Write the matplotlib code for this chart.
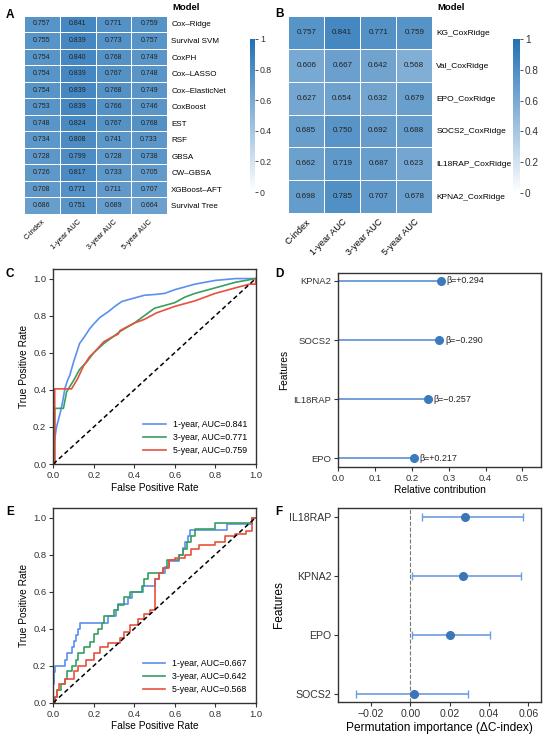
import numpy as np
import matplotlib
matplotlib.use("Agg")
import matplotlib.pyplot as plt
from matplotlib.colors import LinearSegmentedColormap

plt.rcParams['font.family'] = ['Liberation Sans', 'DejaVu Sans']
plt.rcParams['axes.unicode_minus'] = True

# ---------------- data ----------------
metrics = ["C-index", "1-year AUC", "3-year AUC", "5-year AUC"]
models_a = ["Cox\u2013Ridge", "Survival SVM", "CoxPH", "Cox\u2013LASSO", "Cox\u2013ElasticNet",
            "CoxBoost", "EST", "RSF", "GBSA", "CW\u2013GBSA", "XGBoost\u2013AFT", "Survival Tree"]
vals_a = [[0.757, 0.841, 0.771, 0.759],
          [0.755, 0.839, 0.773, 0.757],
          [0.754, 0.840, 0.768, 0.749],
          [0.754, 0.839, 0.767, 0.748],
          [0.754, 0.839, 0.768, 0.749],
          [0.753, 0.839, 0.766, 0.746],
          [0.748, 0.824, 0.767, 0.768],
          [0.734, 0.808, 0.741, 0.733],
          [0.728, 0.799, 0.728, 0.738],
          [0.726, 0.817, 0.733, 0.705],
          [0.708, 0.771, 0.711, 0.707],
          [0.686, 0.751, 0.689, 0.664]]
models_b = ["KG_CoxRidge", "Val_CoxRidge", "EPO_CoxRidge", "SOCS2_CoxRidge",
            "IL18RAP_CoxRidge", "KPNA2_CoxRidge"]
vals_b = [[0.757, 0.841, 0.771, 0.759],
          [0.606, 0.667, 0.642, 0.568],
          [0.627, 0.654, 0.632, 0.679],
          [0.685, 0.750, 0.692, 0.688],
          [0.662, 0.719, 0.687, 0.623],
          [0.698, 0.785, 0.707, 0.678]]
cbar_ticks = [0, 0.2, 0.4, 0.6, 0.8, 1]
cbar_labels = ["0", "0.2", "0.4", "0.6", "0.8", "1"]

# Panel C ROC (training)
c_1y_fpr = [0, 0.005, 0.016, 0.033, 0.045, 0.058, 0.07, 0.082, 0.1, 0.115, 0.13, 0.15, 0.18, 0.2,
            0.23, 0.27, 0.31, 0.34, 0.4, 0.45, 0.51, 0.55, 0.6, 0.65, 0.7, 0.75, 0.8, 0.9, 1.0]
c_1y_tpr = [0, 0.12, 0.2, 0.27, 0.33, 0.41, 0.45, 0.48, 0.55, 0.6, 0.65, 0.68, 0.73, 0.755,
            0.79, 0.82, 0.855, 0.877, 0.895, 0.91, 0.915, 0.92, 0.94, 0.955, 0.97, 0.98, 0.99, 1.0, 1.0]
c_3y_fpr = [0, 0.007, 0.007, 0.05, 0.066, 0.1, 0.13, 0.165, 0.2, 0.25, 0.3, 0.33, 0.4, 0.45,
            0.5, 0.55, 0.6, 0.65, 0.7, 0.8, 0.9, 1.0]
c_3y_tpr = [0, 0, 0.30, 0.30, 0.39, 0.45, 0.51, 0.55, 0.6, 0.65, 0.69, 0.715, 0.76, 0.8,
            0.84, 0.855, 0.87, 0.9, 0.92, 0.95, 0.98, 1.0]
c_5y_fpr = [0, 0.007, 0.007, 0.09, 0.107, 0.12, 0.15, 0.18, 0.2, 0.25, 0.3, 0.32, 0.33, 0.4,
            0.45, 0.51, 0.6, 0.7, 0.8, 0.9, 0.97, 1.0, 1.0]
c_5y_tpr = [0, 0, 0.405, 0.405, 0.436, 0.46, 0.53, 0.58, 0.6, 0.66, 0.69, 0.7, 0.72, 0.76,
            0.78, 0.815, 0.85, 0.88, 0.92, 0.95, 0.97, 0.97, 1.0]
c_auc = ["0.841", "0.771", "0.759"]

# Panel E ROC (validation), step corners
e_1y_fpr = [0, 0, 0.005, 0.01, 0.06, 0.07, 0.09, 0.10, 0.11, 0.12, 0.13, 0.27, 0.31, 0.32, 0.37,
            0.39, 0.445, 0.50, 0.52, 0.55, 0.57, 0.62, 0.64, 0.65, 0.665, 0.675, 0.86, 0.98, 1.0]
e_1y_tpr = [0, 0.1, 0.167, 0.2, 0.233, 0.267, 0.3, 0.333, 0.367, 0.4, 0.433, 0.467, 0.5, 0.533,
            0.567, 0.6, 0.633, 0.667, 0.7, 0.733, 0.767, 0.8, 0.833, 0.867, 0.9, 0.933, 0.967, 1.0, 1.0]
e_3y_fpr = [0, 0.01, 0.02, 0.04, 0.06, 0.07, 0.09, 0.11, 0.12, 0.15, 0.18, 0.2, 0.22, 0.24, 0.25,
            0.3, 0.32, 0.35, 0.38, 0.44, 0.45, 0.47, 0.54, 0.56, 0.62, 0.64, 0.66, 0.68, 0.7, 0.8,
            0.98, 1.0]
e_3y_tpr = [0, 0.03, 0.07, 0.1, 0.13, 0.17, 0.2, 0.23, 0.27, 0.3, 0.33, 0.37, 0.4, 0.43, 0.47,
            0.5, 0.53, 0.57, 0.6, 0.63, 0.67, 0.7, 0.73, 0.77, 0.8, 0.83, 0.87, 0.9, 0.94, 0.97,
            1.0, 1.0]
e_5y_fpr = [0, 0.01, 0.02, 0.03, 0.06, 0.1, 0.12, 0.16, 0.2, 0.23, 0.27, 0.33, 0.35, 0.38, 0.42,
            0.45, 0.48, 0.5, 0.52, 0.54, 0.57, 0.6, 0.65, 0.68, 0.72, 0.8, 0.85, 0.9, 0.95, 0.98, 1.0]
e_5y_tpr = [0, 0.03, 0.07, 0.1, 0.13, 0.17, 0.2, 0.23, 0.27, 0.3, 0.32, 0.35, 0.38, 0.42, 0.45,
            0.48, 0.5, 0.67, 0.7, 0.73, 0.77, 0.78, 0.8, 0.83, 0.85, 0.87, 0.9, 0.91, 0.93, 1.0, 1.0]
e_auc = ["0.667", "0.642", "0.568"]
years = ["1-year", "3-year", "5-year"]

# Panel D
d_features = ["KPNA2", "SOCS2", "IL18RAP", "EPO"]
d_contrib = [0.278, 0.274, 0.243, 0.205]
d_beta = ["+0.294", "\u22120.290", "\u22120.257", "+0.217"]

# Panel F
f_features = ["IL18RAP", "KPNA2", "EPO", "SOCS2"]
f_mean = [0.0278, 0.0266, 0.0200, 0.0019]
f_low = [0.0058, 0.0007, 0.0010, -0.0276]
f_high = [0.0575, 0.0563, 0.0405, 0.0295]

# ---------------- figure ----------------
W, H = 550, 737
fig = plt.figure(figsize=(W / 100, H / 100), dpi=100)


def ax_px(l, t, r, b):
    return fig.add_axes([l / W, 1 - b / H, (r - l) / W, (b - t) / H])


cmap = LinearSegmentedColormap.from_list("wb", ["#ffffff", "#2171b5"])
line_cols = ["#5b8ff0", "#35a060", "#e8503c"]
spine_col = "#333333"


def heatmap(ax, vals, rows, fs_cell, fs_row, fs_col):
    arr = np.array(vals)
    m = ax.pcolormesh(arr, cmap=cmap, vmin=0, vmax=1, edgecolors="white", linewidth=0.6)
    ax.set_xlim(0, arr.shape[1])
    ax.set_ylim(arr.shape[0], 0)
    for i in range(arr.shape[0]):
        for j in range(arr.shape[1]):
            ax.text(j + 0.5, i + 0.5, f"{arr[i, j]:.3f}", ha="center", va="center",
                    fontsize=fs_cell, color="#222222")
    ax.set_yticks(np.arange(arr.shape[0]) + 0.5)
    ax.set_yticklabels(rows, fontsize=fs_row)
    ax.yaxis.tick_right()
    ax.set_xticks(np.arange(arr.shape[1]) + 0.5)
    ax.set_xticklabels(metrics, fontsize=fs_col, rotation=45, ha="right", rotation_mode="anchor")
    ax.tick_params(length=0, pad=3)
    for s in ax.spines.values():
        s.set_visible(False)
    return m


def cbar(cax, m, fs):
    cb = fig.colorbar(m, cax=cax)
    cb.outline.set_visible(False)
    cb.set_ticks(cbar_ticks)
    cb.set_ticklabels(cbar_labels)
    cax.tick_params(labelsize=fs, length=2, width=0.6, colors="#333333", pad=2)


# Panel A
axA = ax_px(24, 15.7, 167, 214)
mA = heatmap(axA, vals_a, models_a, 5.0, 5.8, 5.4)
cbar(ax_px(250, 39, 254.5, 192), mA, 6.3)
fig.text(172 / W, 1 - 7 / H, "Model", fontsize=6.8, fontweight="bold", va="center", ha="left")

# Panel B
axB = ax_px(288.3, 15.7, 432.3, 213.3)
mB = heatmap(axB, vals_b, models_b, 5.8, 6.0, 6.6)
cbar(ax_px(513, 39, 519.5, 193), mB, 7.2)
fig.text(437 / W, 1 - 7 / H, "Model", fontsize=6.8, fontweight="bold", va="center", ha="left")


def style_axes(ax, fs_tick):
    for s in ax.spines.values():
        s.set_color(spine_col)
        s.set_linewidth(1.0)
    ax.tick_params(labelsize=fs_tick, length=3, width=0.8, colors="#333333", pad=2)


def roc(ax, curves, aucs, steps):
    for (fx, ty), col, yr, a in zip(curves, line_cols, years, aucs):
        ax.plot(fx, ty, color=col, lw=1.2, drawstyle="steps-post" if steps else "default",
                label=f"{yr}, AUC={a}")
    ax.plot([0, 1], [0, 1], ls="--", color="black", lw=1.1, dashes=(3, 2))
    ax.set_xlim(0, 1)
    ax.set_ylim(0, 1.05)
    ax.set_xticks([0, 0.2, 0.4, 0.6, 0.8, 1.0])
    ax.set_yticks([0, 0.2, 0.4, 0.6, 0.8, 1.0])
    ax.set_xlabel("False Positive Rate", fontsize=7.3, labelpad=2)
    ax.set_ylabel("True Positive Rate", fontsize=7.3, labelpad=3)
    style_axes(ax, 6.8)
    ax.legend(loc="lower right", frameon=False, fontsize=6.3, handlelength=2.6,
              borderaxespad=0.6, labelspacing=0.45)


axC = ax_px(53.3, 269.3, 255.7, 464)
roc(axC, [(c_1y_fpr, c_1y_tpr), (c_3y_fpr, c_3y_tpr), (c_5y_fpr, c_5y_tpr)], c_auc, False)

axE = ax_px(53.3, 508.3, 255.7, 702.7)
roc(axE, [(e_1y_fpr, e_1y_tpr), (e_3y_fpr, e_3y_tpr), (e_5y_fpr, e_5y_tpr)], e_auc, True)

# Panel D
axD = ax_px(338.3, 272.7, 540.7, 466.7)
yd = np.arange(len(d_features))[::-1]
axD.hlines(yd, 0, d_contrib, color="#5b8fd8", lw=1.2)
axD.plot(d_contrib, yd, "o", color="#3a7bbf", ms=5.5)
for x, y, b in zip(d_contrib, yd, d_beta):
    axD.text(x + 0.016, y, f"\u03b2={b}", fontsize=6.4, va="center", ha="left", color="#222222")
axD.set_yticks(yd)
axD.set_yticklabels(d_features)
axD.set_xlim(0, 0.55)
axD.set_ylim(-0.14, 3.14)
axD.set_xticks([0, 0.1, 0.2, 0.3, 0.4, 0.5])
axD.set_xlabel("Relative contribution", fontsize=7.3, labelpad=2)
axD.set_ylabel("Features", fontsize=7.3, labelpad=3)
style_axes(axD, 6.8)

# Panel F
axF = ax_px(338.3, 507.7, 540.7, 702.3)
yf = np.arange(len(f_features))[::-1]
fm = np.array(f_mean)
err = np.vstack([fm - np.array(f_low), np.array(f_high) - fm])
axF.axvline(0, color="#777777", ls="--", lw=0.8)
axF.errorbar(fm, yf, xerr=err, fmt="none", ecolor="#6f9be0", elinewidth=1.2, capsize=3,
             capthick=1.0)
axF.plot(fm, yf, "o", color="#3a76b8", ms=5.5)
axF.set_yticks(yf)
axF.set_yticklabels(f_features)
axF.set_xlim(-0.0366, 0.0663)
axF.set_ylim(-0.14, 3.16)
axF.set_xticks([-0.02, 0.0, 0.02, 0.04, 0.06])
axF.set_xticklabels(["\u22120.02", "0.00", "0.02", "0.04", "0.06"])
axF.set_xlabel("Permutation importance (\u0394C-index)", fontsize=8.6, labelpad=2)
axF.set_ylabel("Features", fontsize=8.6, labelpad=3)
style_axes(axF, 7.6)

# panel letters
for lbl, x, y in [("A", 10, 15), ("B", 279, 14), ("C", 10, 274), ("D", 279, 274),
                  ("E", 10, 512), ("F", 279, 512)]:
    fig.text(x / W, 1 - y / H, lbl, fontsize=8.5, fontweight="bold", ha="center", va="center")

fig.savefig("out.png", dpi=100)
